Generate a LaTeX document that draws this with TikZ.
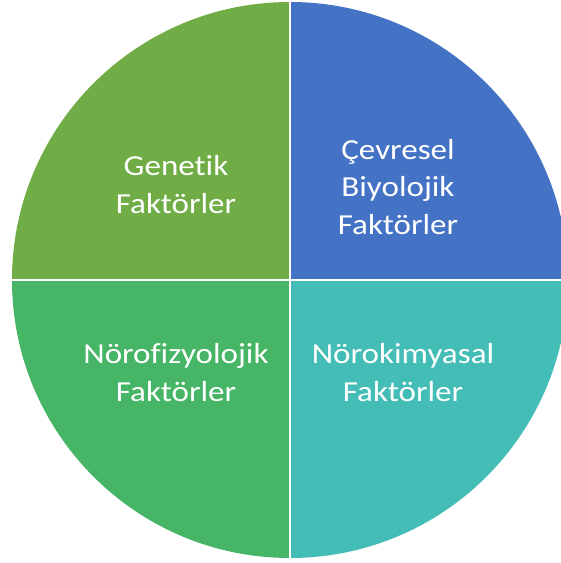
\documentclass[tikz,border=0pt]{standalone}
\usepackage{fontspec}
\setmainfont[Ligatures={NoCommon},FakeStretch=1.14]{Carlito}
\definecolor{qgen}{HTML}{70AD47}
\definecolor{qcev}{HTML}{4472C4}
\definecolor{qnf}{HTML}{47B566}
\definecolor{qnk}{HTML}{44BDB6}
\begin{document}
\begin{tikzpicture}[x=1pt,y=-1pt,
  lbl/.style={text=white,align=center,inner sep=0pt,anchor=base,
    font=\fontsize{29}{37.5}\selectfont},
  sep/.style={white,line width=2.2pt}]
\useasboundingbox (0,0) rectangle (561,563);
\clip (0,0) rectangle (561,563);
\coordinate (c) at (290,280);
\def\R{278}
\fill[qgen] (c) -- (12,280) arc[start angle=180,end angle=270,radius=\R] -- cycle;
\fill[qcev] (c) -- (290,2) arc[start angle=270,end angle=360,radius=\R] -- cycle;
\fill[qnk] (c) -- (568,280) arc[start angle=0,end angle=90,radius=\R] -- cycle;
\fill[qnf] (c) -- (290,558) arc[start angle=90,end angle=180,radius=\R] -- cycle;
\coordinate (vt) at (290,2);
\coordinate (vb) at (290,558);
\coordinate (hl) at (12,280);
\coordinate (hr) at (568,280);
\draw[sep] (vt) -- (vb);
\draw[sep] (hl) -- (hr);
\node[lbl] (gen) at (176,213) {Genetik\\Faktörler};
\node[lbl] (cev) at (398,234) {Çevresel\\Biyolojik\\Faktörler};
\node[lbl] (nf) at (176,401) {Nörofizyolojik\\Faktörler};
\node[lbl] (nk) at (403,401) {Nörokimyasal\\Faktörler};
\end{tikzpicture}
\end{document}
